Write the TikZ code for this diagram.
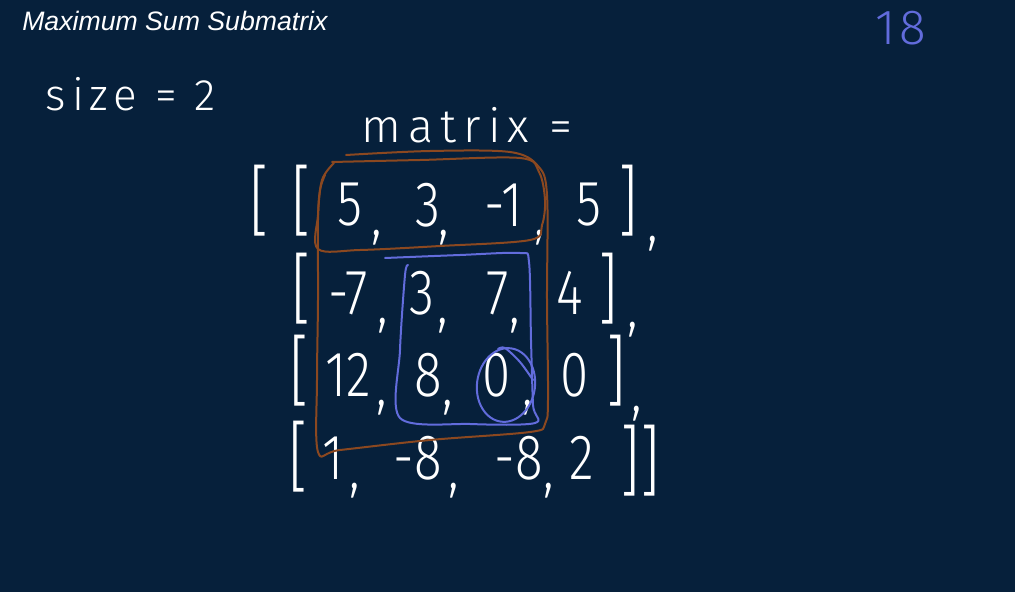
\documentclass[tikz,border=0pt]{standalone}
\usepackage{fontspec}
\setmainfont{Liberation Sans}
\newfontfamily\hand{Fira Sans Light}
\newfontfamily\handn[FakeStretch=0.8]{Fira Sans Light}
\definecolor{bg}{RGB}{6,32,59}
\definecolor{brn}{RGB}{139,72,32}
\definecolor{blu}{RGB}{98,108,220}
\tikzset{
  tok/.style={text=white, inner sep=0pt, anchor=center, font=\handn\fontsize{48}{48}\selectfont},
  brk/.style={text=white, inner sep=0pt, anchor=center, font=\handn\fontsize{58}{58}\selectfont},
  hw/.style={text=white, inner sep=0pt, anchor=center},
  brnline/.style={draw=brn, line width=1.5pt, line join=round, line cap=round},
  bluline/.style={draw=blu, line width=1.5pt, line join=round, line cap=round},
}
\begin{document}
\begin{tikzpicture}[x=0.75pt,y=-0.75pt]
\useasboundingbox (0,0) rectangle (1015,592);
\fill[bg] (0,0) rectangle (1015,592);

\node[text=white, anchor=base west, inner sep=0pt, font=\itshape\fontsize{20}{24}\selectfont] (title) at (22,31) {Maximum Sum Submatrix};
\node[text=blu, inner sep=0pt, font=\hand\addfontfeatures{LetterSpace=8}\fontsize{37}{37}\selectfont] (res) at (901,28) {18};
\node[hw, font=\hand\addfontfeatures{LetterSpace=13}\fontsize{33}{33}\selectfont] (size) at (131,94) {size = 2};
\node[hw, font=\hand\addfontfeatures{LetterSpace=15}\fontsize{35}{35}\selectfont] (mat) at (467,125) {matrix =};

% row 1
\node[brk] (a0) at (259,201) {[};
\node[brk] (a1) at (301,201) {[};
\node[tok] (a2) at (350,205) {5};
\node[tok] (a3) at (377,238) {,};
\node[tok] (a4) at (428,205) {3};
\node[tok] (a5) at (444,238) {,};
\node[tok] (a6) at (504,205) {-1};
\node[tok] (a7) at (540,238) {,};
\node[tok] (a8) at (589,205) {5};
\node[brk] (a9) at (628,201) {]};
\node[tok] (a10) at (653,244) {,};
% row 2
\node[brk] (b0) at (301,289) {[};
\node[tok] (b1) at (348,293) {-7};
\node[tok] (b2) at (383,326) {,};
\node[tok] (b3) at (422,293) {3};
\node[tok] (b4) at (443,326) {,};
\node[tok] (b5) at (498,293) {7};
\node[tok] (b6) at (515,326) {,};
\node[tok] (b7) at (570,293) {4};
\node[brk] (b8) at (608,289) {]};
\node[tok] (b9) at (633,330) {,};
% row 3
\node[brk] (c0) at (299,371) {[};
\node[tok] (c1) at (348,375) {12};
\node[tok] (c2) at (382,408) {,};
\node[tok] (c3) at (428,375) {8};
\node[tok] (c4) at (448,408) {,};
\node[tok] (c5) at (497,375) {0};
\node[tok] (c6) at (528,408) {,};
\node[tok] (c7) at (575,375) {0};
\node[brk] (c8) at (616,371) {]};
\node[tok] (c9) at (637,414) {,};
% row 4
\node[brk] (d0) at (298,457) {[};
\node[tok] (d1) at (333,458) {1};
\node[tok] (d2) at (355,491) {,};
\node[tok] (d3) at (418,458) {-8};
\node[tok] (d4) at (454,491) {,};
\node[tok] (d5) at (519,458) {-8};
\node[tok] (d6) at (549,491) {,};
\node[tok] (d7) at (582,458) {2};
\node[brk] (d8) at (640,461) {]]};

% brown boxes
\draw[brnline] plot[smooth, tension=0.55] coordinates {(332,162) (420,160) (520,158) (539,172) (545,200) (542,225) (530,240) (440,246) (360,250) (318,249) (318,215) (322,180) (334,163)};
\draw[brnline] plot[smooth, tension=0.55] coordinates {(346,155) (430,151) (510,152) (538,166) (547,195) (547,300) (548,400) (545,424) (530,432) (430,440) (340,450) (318,452) (317,380) (318,300) (318,220) (320,190) (325,175)};
% blue box
\draw[bluline] plot[smooth, tension=0.5] coordinates {(385,258) (460,255) (520,253) (529,262) (531,340) (533,405) (535,423) (470,424) (400,418) (400,350) (405,275) (408,265)};
% blue circle
\draw[bluline, rotate around={-8:(506,385)}] (506,385) ellipse [x radius=29, y radius=37];
\draw[bluline] plot[smooth] coordinates {(498,349) (505,348) (520,362) (533,380)};
\end{tikzpicture}
\end{document}
